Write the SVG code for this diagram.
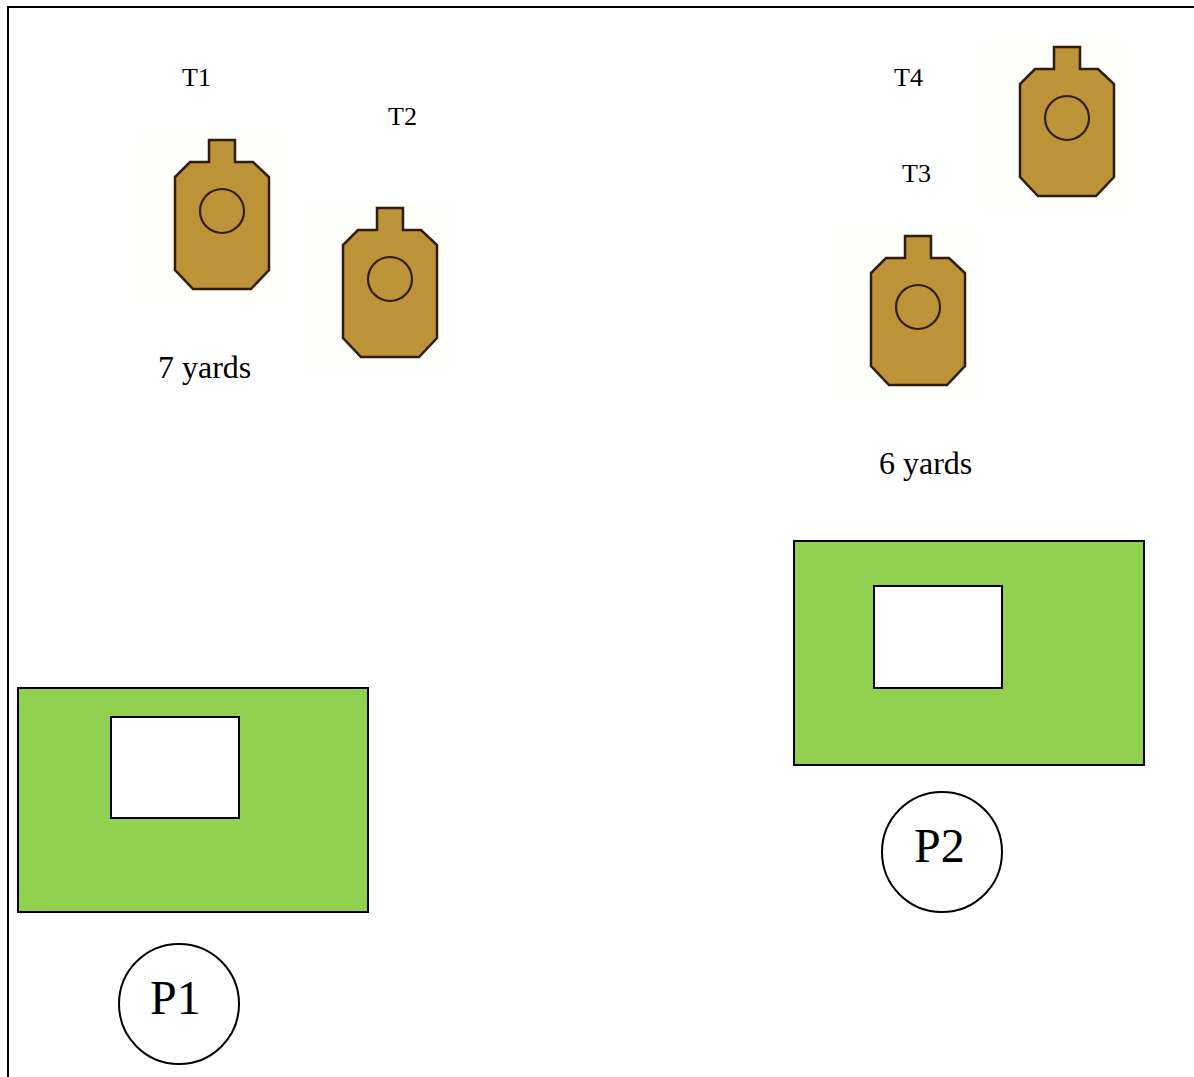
<svg xmlns="http://www.w3.org/2000/svg" width="1194" height="1077" viewBox="0 0 1194 1077">
<style>
text{font-family:"Liberation Serif","Times New Roman",serif;fill:#000}
.s{font-size:26px}.y{font-size:32px}.p{font-size:48px}
.mat{fill:#92d050;stroke:#000;stroke-width:2}
.win{fill:#fff;stroke:#000;stroke-width:2}
.ring{fill:#fff;stroke:#000;stroke-width:2}
.halo{fill:#fefefb}
.body{fill:#bd9338;stroke:#2e1c0e;stroke-width:2.5}
.eye{fill:none;stroke:#2e1c0e;stroke-width:2.2}
</style>
<defs>
<g id="target">
<rect class="halo" x="-87" y="-78" width="148" height="172"/>
<path class="body" d="M-13-71H13V-49H31L47-34V59L29 78H-29L-47 59V-34L-32-49H-13Z"/>
<circle class="eye" r="22"/>
</g>
</defs>
<rect width="1194" height="1077" fill="#fff"/>
<path id="frame" d="M8 1077V7H1194" fill="none" stroke="#000" stroke-width="2"/>
<g id="T1"><use href="#target" x="222" y="211"/><text class="s" x="182" y="86">T1</text></g>
<g id="T2"><use href="#target" x="390" y="279"/><text class="s" x="388" y="125">T2</text></g>
<g id="T3"><use href="#target" x="918" y="307"/><text class="s" x="902" y="182">T3</text></g>
<g id="T4"><use href="#target" x="1067" y="118"/><text class="s" x="894" y="86">T4</text></g>
<text class="y" x="158" y="378">7 yards</text>
<text class="y" x="879" y="474">6 yards</text>
<g id="P1-mat"><rect class="mat" x="18" y="688" width="350" height="224"/><rect class="win" x="111" y="717" width="128" height="101"/></g>
<g id="P2-mat"><rect class="mat" x="794" y="541" width="350" height="224"/><rect class="win" x="874" y="586" width="128" height="102"/></g>
<g id="P1"><circle class="ring" cx="179" cy="1004" r="60"/><text class="p" x="150" y="1014">P1</text></g>
<g id="P2"><circle class="ring" cx="942" cy="852" r="60"/><text class="p" x="914" y="862">P2</text></g>
<g id="connectors"/>
</svg>
